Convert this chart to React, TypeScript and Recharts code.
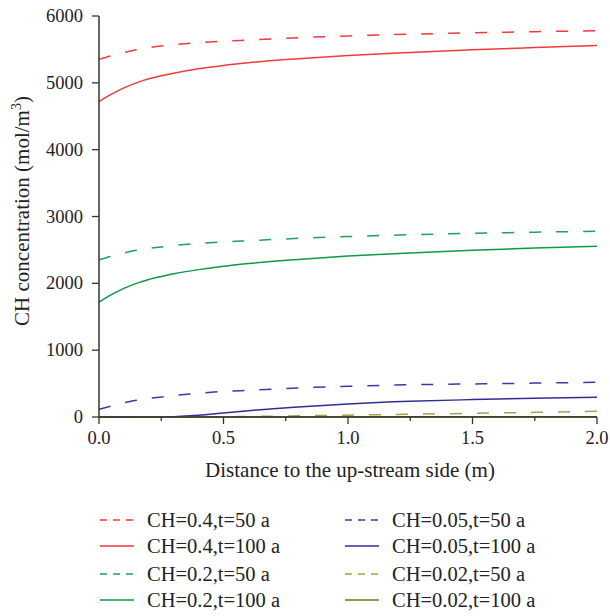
import React from 'react';
import { LineChart, Line, XAxis, YAxis } from 'recharts';

const xs = [0, 0.05, 0.1, 0.15, 0.2, 0.25, 0.3, 0.4, 0.5, 0.6, 0.7, 0.8, 1.0, 1.25, 1.5, 1.75, 2.0];

const ch04t50 = [5350, 5405, 5455, 5495, 5525, 5550, 5570, 5600, 5622, 5640, 5658, 5675, 5702, 5728, 5748, 5765, 5780];
const ch04t100 = [4720, 4830, 4925, 5000, 5060, 5105, 5145, 5210, 5260, 5300, 5335, 5362, 5410, 5455, 5495, 5528, 5560];
const ch02t50 = [2350, 2405, 2455, 2495, 2522, 2545, 2565, 2597, 2620, 2638, 2656, 2673, 2700, 2727, 2748, 2765, 2780];
const ch02t100 = [1720, 1830, 1925, 2000, 2058, 2103, 2143, 2205, 2255, 2295, 2330, 2358, 2408, 2455, 2495, 2527, 2555];
const ch005t50 = [115, 165, 212, 250, 278, 300, 320, 355, 382, 400, 418, 435, 460, 482, 495, 507, 520];
const ch005t100 = [0, 0, 0, 0, 0, 2, 5, 25, 60, 95, 125, 150, 195, 235, 260, 280, 295];
const ch002t50 = [0, 0, 0, 0, 0, 0, 0, 0, 3, 8, 12, 18, 27, 42, 55, 70, 85];
const ch002t100 = [0, 0, 0, 0, 0, 0, 0, 0, 0, 0, 0, 0, 1, 2, 3, 4, 5];

const xTicks = [0, 0.25, 0.5, 0.75, 1.0, 1.25, 1.5, 1.75, 2.0];
const xMajor = [0, 0.5, 1.0, 1.5, 2.0];
const yTicks = [0, 1000, 2000, 3000, 4000, 5000, 6000];

const series = [
  { key: 'a', name: 'CH=0.4,t=50 a', values: ch04t50, color: '#f23a3a', dashed: true },
  { key: 'b', name: 'CH=0.4,t=100 a', values: ch04t100, color: '#f23a3a', dashed: false },
  { key: 'c', name: 'CH=0.2,t=50 a', values: ch02t50, color: '#1aa356', dashed: true },
  { key: 'd', name: 'CH=0.2,t=100 a', values: ch02t100, color: '#0b9a48', dashed: false },
  { key: 'e', name: 'CH=0.05,t=50 a', values: ch005t50, color: '#3a3aa8', dashed: true },
  { key: 'f', name: 'CH=0.05,t=100 a', values: ch005t100, color: '#2e2e98', dashed: false },
  { key: 'g', name: 'CH=0.02,t=50 a', values: ch002t50, color: '#a3a34a', dashed: true },
  { key: 'h', name: 'CH=0.02,t=100 a', values: ch002t100, color: '#6f6f1c', dashed: false },
];

const data = xs.map((x, i) => {
  const row: any = { x };
  series.forEach((s) => { row[s.key] = s.values[i]; });
  return row;
});

const FONT = '"Liberation Serif", "DejaVu Serif", serif';
const AXIS = '#333';

const XTick = (props: any) => {
  const { x, y, payload } = props;
  const v = payload.value;
  const major = xMajor.some((m) => Math.abs(m - v) < 1e-9);
  return (
    <g>
      <line x1={x} y1={y} x2={x} y2={y + (major ? 7 : 4)} stroke={AXIS} strokeWidth={1.3} />
      {major && (
        <text x={x} y={y + 27} textAnchor="middle" fontFamily={FONT} fontSize={18.5} fill="#222">
          {v.toFixed(1)}
        </text>
      )}
    </g>
  );
};

const YTick = (props: any) => {
  const { x, y, payload } = props;
  return (
    <g>
      <line x1={x - 7} y1={y} x2={x} y2={y} stroke={AXIS} strokeWidth={1.3} />
      <text x={x - 16} y={y + 6} textAnchor="end" fontFamily={FONT} fontSize={18.5} fill="#222">
        {payload.value}
      </text>
    </g>
  );
};

const LegendItem = ({ s, left, top }: any) => (
  <div style={{ position: 'absolute', left, top, height: 24, display: 'flex', alignItems: 'center' }}>
    <svg width={36} height={6} style={{ display: 'block' }}>
      <line x1={1} y1={3} x2={35} y2={3} stroke={s.color} strokeWidth={1.5} strokeDasharray={s.dashed ? '7 6' : undefined} />
    </svg>
    <span style={{ marginLeft: 12, fontFamily: FONT, fontSize: 20.5, color: '#222', whiteSpace: 'nowrap' }}>{s.name}</span>
  </div>
);

export default function App() {
  const rowTops = [508, 534, 562, 588];
  return (
    <div style={{ position: 'absolute', left: 0, top: 0, width: 610, height: 616, background: '#fff' }}>
      <LineChart width={610} height={616} data={data} margin={{ top: 16, right: 13, bottom: 146, left: 0 }}>
        <XAxis
          dataKey="x"
          type="number"
          domain={[0, 2]}
          ticks={xTicks}
          tickSize={0}
          tickMargin={0}
          tickLine={false}
          tick={<XTick />}
          height={53}
          axisLine={{ stroke: AXIS, strokeWidth: 1.5 }}
          interval={0}
          label={{
            content: () => (
              <text x={350} y={477} textAnchor="middle" fontFamily={FONT} fontSize={21} fill="#222">
                Distance to the up-stream side (m)
              </text>
            ),
          }}
        />
        <YAxis
          type="number"
          domain={[0, 6000]}
          ticks={yTicks}
          width={99}
          tickSize={0}
          tickMargin={0}
          tickLine={false}
          tick={<YTick />}
          interval={0}
          axisLine={{ stroke: AXIS, strokeWidth: 1.5 }}
          label={{
            content: () => (
              <text
                x={0}
                y={0}
                transform="translate(29,211) rotate(-90)"
                textAnchor="middle"
                fontFamily={FONT}
                fontSize={21}
                fill="#222"
              >
                CH concentration (mol/m
                <tspan dy={-8} fontSize={14}>3</tspan>
                <tspan dy={8}>)</tspan>
              </text>
            ),
          }}
        />
        {series.map((s) => (
          <Line
            key={s.key}
            dataKey={s.key}
            name={s.name}
            type="monotone"
            stroke={s.color}
            strokeWidth={1.5}
            strokeDasharray={s.dashed ? '12 15' : undefined}
            dot={false}
            activeDot={false}
            isAnimationActive={false}
          />
        ))}
      </LineChart>
      {series.map((s, i) => (
        <LegendItem key={s.key} s={s} left={i < 4 ? 99 : 344} top={rowTops[i % 4]} />
      ))}
    </div>
  );
}
